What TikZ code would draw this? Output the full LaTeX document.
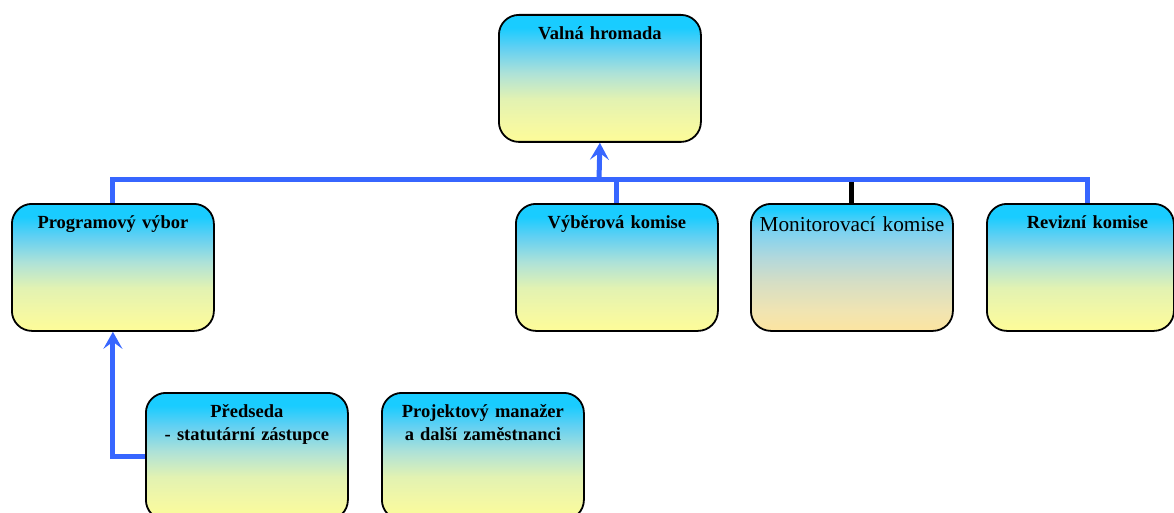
\documentclass[tikz,border=0pt]{standalone}
\usepackage{fontspec}
\setmainfont{Liberation Serif}
\usetikzlibrary{arrows.meta}
\definecolor{cyanT}{RGB}{25,204,255}
\definecolor{yelB}{RGB}{253,252,152}
\definecolor{cA}{HTML}{F4F8A4}
\definecolor{cB}{HTML}{E2F2B2}
\definecolor{cC}{HTML}{AEE2D8}
\definecolor{cD}{HTML}{62D0F2}
\definecolor{peachB}{HTML}{FCE4A0}
\definecolor{pA}{HTML}{F0E4B2}
\definecolor{pB}{HTML}{D6DEC4}
\definecolor{pC}{HTML}{B2D8DC}
\definecolor{pD}{HTML}{7ED2F0}
\definecolor{lineblue}{RGB}{55,102,255}
\pgfdeclareverticalshading{cyyel}{100bp}{color(0bp)=(yelB); color(25bp)=(yelB); color(32bp)=(cA); color(42bp)=(cB); color(52bp)=(cC); color(62bp)=(cD); color(70bp)=(cyanT); color(100bp)=(cyanT)}
\pgfdeclareverticalshading{cypeach}{100bp}{color(0bp)=(peachB); color(25bp)=(peachB); color(33bp)=(pA); color(44bp)=(pB); color(54bp)=(pC); color(64bp)=(pD); color(73bp)=(cyanT); color(100bp)=(cyanT)}
\begin{document}
\begin{tikzpicture}[x=1pt,y=-1pt,
  orgbox/.style={draw=black, line width=1.8pt, rounded corners=20pt, shading=cyyel,
    anchor=north west, inner xsep=6pt, inner ysep=10pt, text width=190pt, align=center,
    text height=15pt, text depth=92pt, font=\fontsize{18.5}{22.5}\selectfont\bfseries},
  conn/.style={draw=lineblue, line width=5pt},
  tip/.style={-{Stealth[length=17pt,width=19pt,inset=7pt]}}
  ]
\useasboundingbox (0,0) rectangle (1174,513);

\node[orgbox] (vh) at (498,14) {Valná hromada};
\node[orgbox] (pv) at (11,203) {Programový výbor};
\node[orgbox] (vk) at (515,203) {Výběrová komise};
\node[orgbox, shading=cypeach, text height=18pt, text depth=89pt,
      font=\fontsize{21.3}{24}\selectfont] (mk) at (750,203) {Monitorovací komise};
\node[orgbox, text width=175pt] (rk) at (986,203) {\hspace*{14pt}Revizní komise};
\node[orgbox] (pr) at (145,392) {Předseda\\ - statutární zástupce};
\node[orgbox] (pm) at (381,392) {Projektový manažer\\ a další zaměstnanci};

\coordinate (bus) at (599,180);
\draw[line width=5pt, black] (mk.north) -- (mk.north |- bus);
\draw[conn] (pv.north) |- ([xshift=7pt]rk.north |- bus) -- ([xshift=7pt]rk.north);
\draw[conn] (vk.north) -- (vk.north |- bus);
\draw[conn, tip] (bus) -- (vh.south);
\draw[conn, tip] (pr.west) -| (pv.south);
\end{tikzpicture}
\end{document}
